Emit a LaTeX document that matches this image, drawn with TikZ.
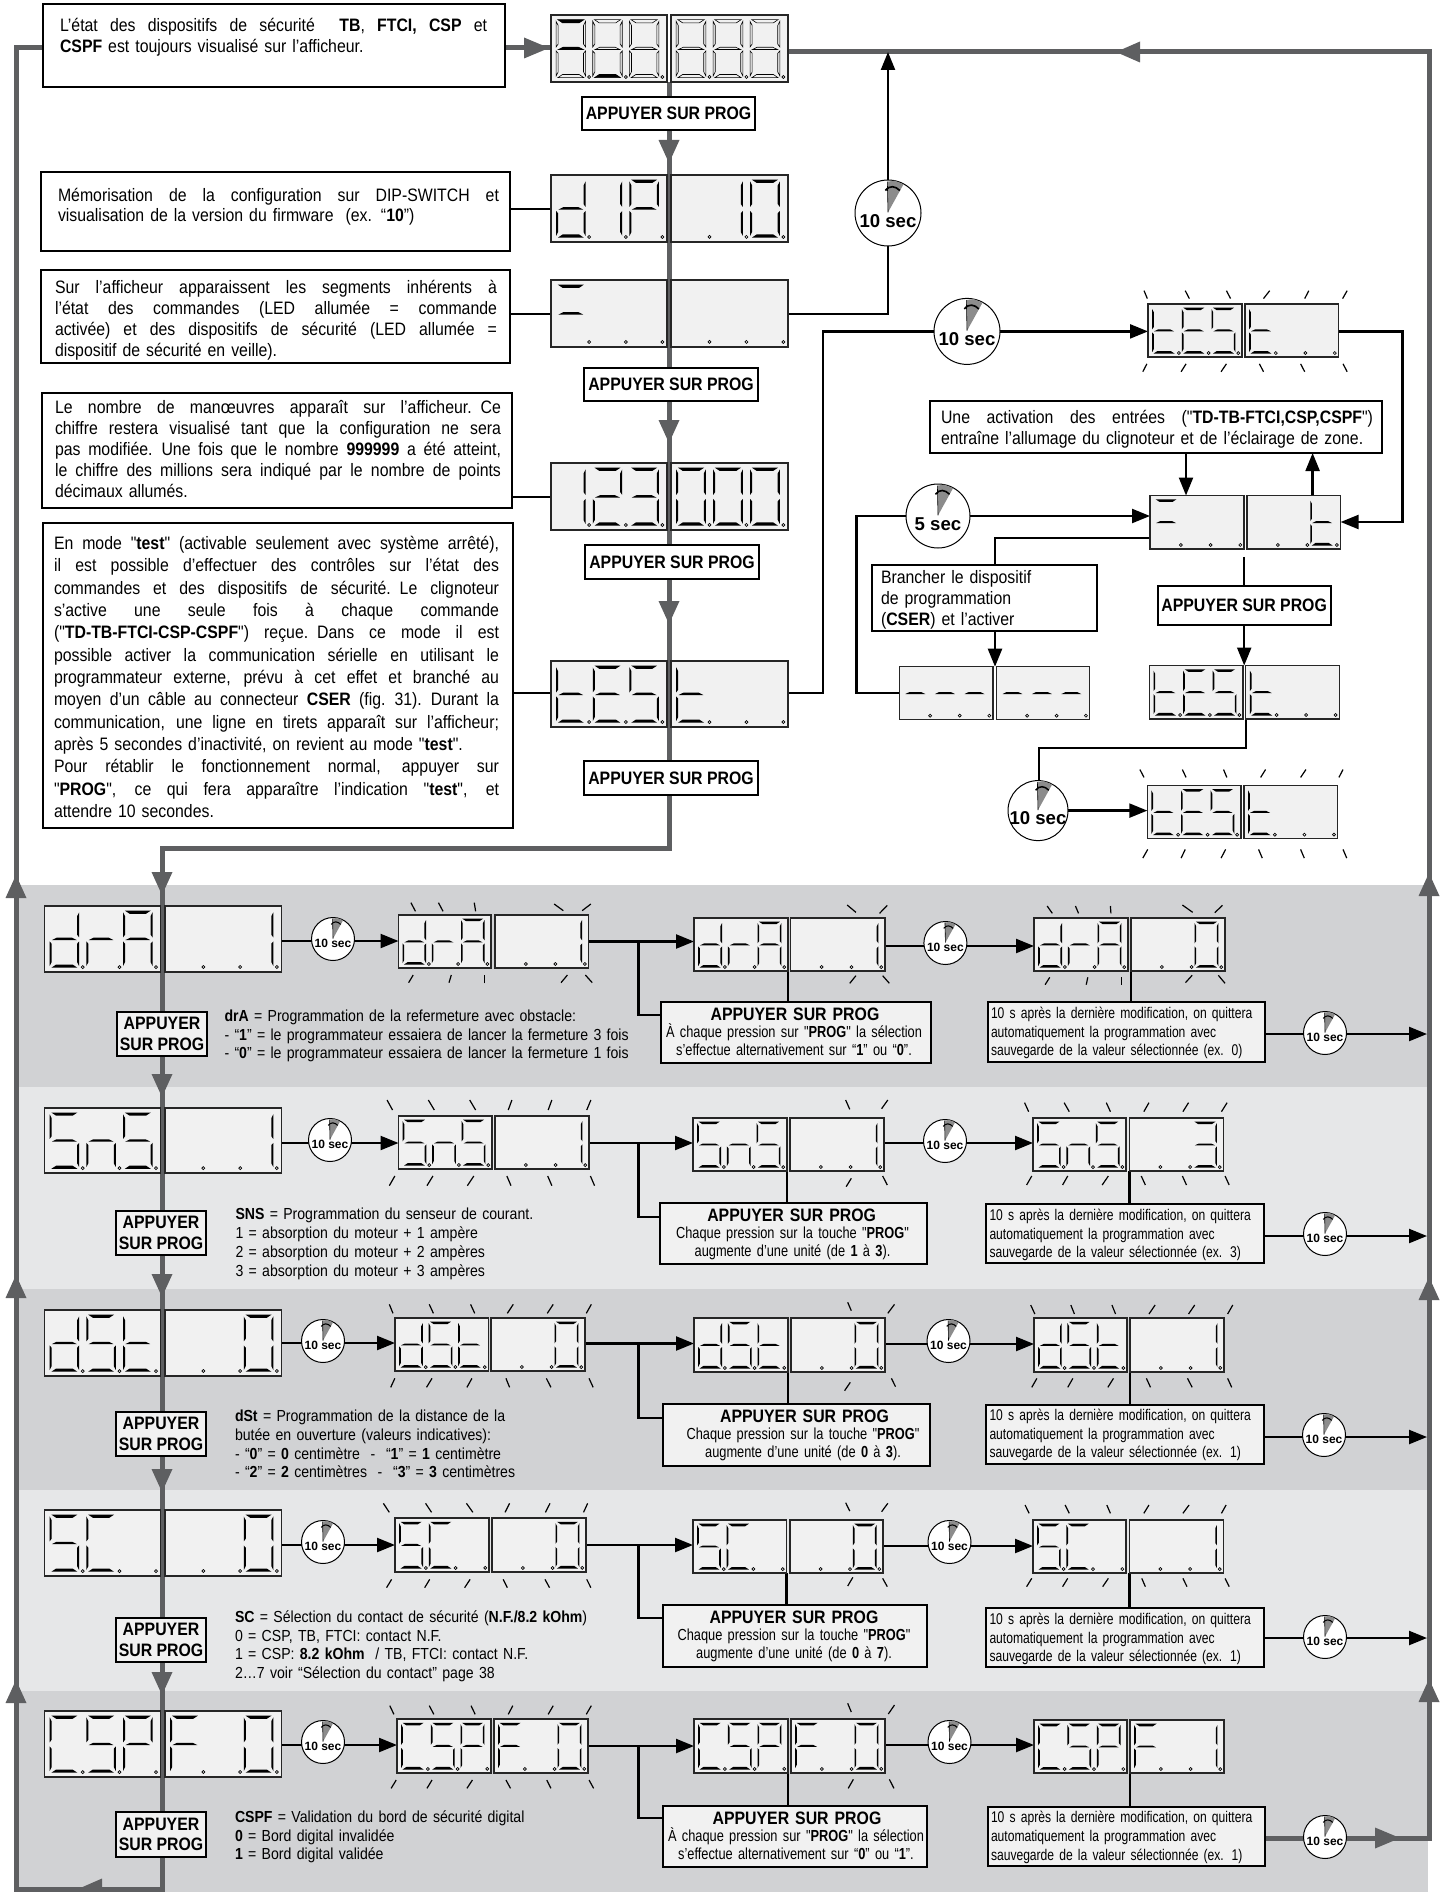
\documentclass[tikz,border=0pt]{standalone}
\usepackage{fontspec}
\setmainfont[FakeStretch=0.88,Ligatures=TeXOff]{Liberation Sans}
\newfontfamily\timerfont[Ligatures=TeXOff]{Liberation Sans}
\newfontfamily\cf[FakeStretch=0.8,Ligatures=TeXOff]{Liberation Sans}
\newfontfamily\rf[FakeStretch=0.78,Ligatures=TeXOff]{Liberation Sans}
\usetikzlibrary{arrows.meta,calc}
\pgfdeclarelayer{bands}\pgfdeclarelayer{links}\pgfsetlayers{bands,links,main}
\definecolor{gcol}{HTML}{5E5F61}
\definecolor{banddark}{HTML}{D1D2D4}
\definecolor{bandlight}{HTML}{E6E7E8}
\definecolor{pfill}{HTML}{F1F1F1}
\tikzset{
 pbox/.style={draw=black!85,fill=pfill,line width=1.2pt,inner sep=0,outer sep=0},
 tbox/.style={draw=black,fill=white,line width=2pt,inner sep=0,outer sep=0},
 gbox/.style={draw=black,fill=pfill,line width=2pt,inner sep=0,outer sep=0},
 txt/.style={inner sep=0,outer sep=0,anchor=north west,align=left},
 gline/.style={draw=gcol,line width=5pt,line join=miter},
 blk/.style={draw=black,line width=2.3pt},
 blkar/.style={blk,-{Triangle[length=18pt,width=14pt]}},
 tk/.style={draw=black,line width=1.2pt},
 dotst/.style={draw=black,fill=white,line width=.7pt},
 segcur/.style={fill=black},
 zs/.style n args={4}{shift={(#1,#2)},xscale=1/#3,yscale=1/#4},
}
% segments in a unit digit cell
\def\segma{\path[segcur] (.06,0)--(.94,0)--(.78,.055)--(.22,.055)--cycle;}
\def\segmg{\path[segcur] (.08,.515)--(.24,.475)--(.76,.475)--(.92,.515)--cycle;}
\def\segmd{\path[segcur] (.22,.945)--(.78,.945)--(.94,1)--(.06,1)--cycle;}
\def\segmf{\path[segcur] (0,.03)--(.07,.10)--(.07,.42)--(0,.47)--cycle;}
\def\segme{\path[segcur] (0,.54)--(.07,.58)--(.07,.90)--(0,.97)--cycle;}
\def\segmb{\path[segcur] (1,.03)--(.93,.10)--(.93,.42)--(1,.47)--cycle;}
\def\segmc{\path[segcur] (1,.54)--(.93,.58)--(.93,.90)--(1,.97)--cycle;}
\def\DGx{}
\def\DGd{b,c,d,e,g}\def\DGr{e,g}\def\DGA{a,b,c,e,f,g}\def\DGone{b,c}
\def\DGS{a,c,d,f,g}\def\DGn{c,e,g}\def\DGt{d,e,f,g}\def\DGC{a,d,e,f}
\def\DGP{a,b,e,f,g}\def\DGF{a,e,f,g}\def\DGzero{a,b,c,d,e,f}
\def\DGtwo{a,b,d,e,g}\def\DGthree{a,b,c,d,g}\def\DGE{a,d,e,f,g}
\def\DGag{a,g}\def\DGdd{d}\def\DGaa{a}\def\DGg{g}
\newif\ifshowoff
\newcommand{\digitat}[2]{%
 \begin{scope}[shift={(.044+#1*.316,.07)},xscale=.254,yscale=.865]
  \ifshowoff
   \begin{scope}[segcur/.style={draw=black,line width=.6pt}]
    \segma\segmb\segmc\segmd\segme\segmf\segmg
   \end{scope}
  \fi
  \expandafter\let\expandafter\curlist\csname DG#2\endcsname
  \foreach \s in \curlist {\csname segm\s\endcsname}
 \end{scope}}
\newcommand{\panel}[8]{%
 \pgfmathsetmacro\pw{#4-#2}\pgfmathsetmacro\ph{#5-#3}%
 \node[pbox,minimum width=\pw pt,minimum height=\ph pt,anchor=north west] (#1) at (#2,#3) {};
 \begin{scope}[shift={(#2,#3)},xscale=\pw,yscale=\ph]
  \digitat{0}{#6}\digitat{1}{#7}\digitat{2}{#8}
  \foreach \dx in {.329,.645,.960}
   {\draw[dotst] (\dx,.925) circle[x radius=1.5/\pw,y radius=1.5/\ph];}
 \end{scope}}
\newcommand{\bx}[6]{%
 \pgfmathsetmacro\pw{#5-#3}\pgfmathsetmacro\ph{#6-#4}%
 \node[#2,minimum width=\pw pt,minimum height=\ph pt,anchor=north west] (#1) at (#3,#4) {};}
\newcommand{\abx}[7]{%
 \pgfmathsetmacro\pw{#5-#3}\pgfmathsetmacro\ph{#6-#4}%
 \node[#2,minimum width=\pw pt,minimum height=\ph pt,anchor=north west,align=center,
   font={\fontsize{18}{20.5}\selectfont\bfseries}] (#1) at (#3,#4) {#7};}
\newcommand{\tbl}[7]{%
 \pgfmathsetmacro\tyy{#4+0.36*#5-0.8*#6}\pgfmathsetmacro\tss{0.8*#6}%
 \node[txt,#2,font={\fontsize{#5}{#6}\selectfont}] (#1) at (#3,\tyy) {\rule{0pt}{\tss pt}#7};}
\newcommand{\jl}[1]{\leavevmode\hbox to \hsize{\spaceskip=.245em plus 1fil\relax #1}}
\newcommand{\timer}[5]{% name cx cy r text(big=1/small=0)
 \node[circle,draw=black,fill=white,line width=1pt,minimum size=2*#4 pt,inner sep=0,outer sep=0] (#1) at (#2,#3) {};
 \begin{scope}[shift={(#2,#3)},scale=#4]
  \fill[black!45] (0,-.02)--(-.02,-.95)--(.2,-.98)--(.47,-.87)--cycle;
  \draw[black,line width=.05*#4 pt] (-.08,-.68) .. controls (.05,-.85) and (.22,-.82) .. (.36,-.68);
  \draw[black,line width=.6pt] (0,-.02)--(-.02,-.95);
 \end{scope}}
\newcommand{\bigsec}[4]{\node[inner sep=0,font={\timerfont\fontsize{18.6}{20}\selectfont\bfseries}] (#1) at (#2,#3) {#4};}
\newcommand{\smallsec}[3]{\node[inner sep=0,font={\timerfont\fontsize{12}{14}\selectfont\bfseries}] (#1) at (#2,#3) {10 sec};}
\newcommand{\stimer}[3]{\timer{#1}{#2}{#3}{21.5}{}\pgfmathsetmacro\tyy{#3+4.5}\smallsec{#1x}{#2}{\tyy}}
% gray heads
\newcommand{\gdown}[2]{\fill[gcol] (#1-10.5,#2-23)--(#1+10.5,#2-23)--(#1,#2)--cycle;}
\newcommand{\gup}[2]{\fill[gcol] (#1-10.5,#2+23)--(#1+10.5,#2+23)--(#1,#2)--cycle;}
\newcommand{\gleft}[2]{\fill[gcol] (#1+24,#2-10.5)--(#1+24,#2+10.5)--(#1,#2)--cycle;}
\newcommand{\gright}[2]{\fill[gcol] (#1-25,#2-10.5)--(#1-25,#2+10.5)--(#1,#2)--cycle;}
\newcommand{\tkB}[3]{\foreach \a/\b in {#1}{\draw[tk] (\a,#2)--(\b,#3);}}
\newcommand{\tkF}[3]{\foreach \a/\b in {#1}{\draw[tk] (\a,#3)--(\b,#2);}}
% row connectors: n y1 y2 y3 ybranch
\newcommand{\rowlinks}[5]{%
 \coordinate (y#1a) at (0,#2);\coordinate (y#1b) at (0,#3);\coordinate (y#1c) at (0,#4);
 \coordinate (k#1) at (638.5,#3);\coordinate (z#1) at (638.5,#5);
 \draw[blk] (p#1aR.east |- y#1a) -- (t#1a.center |- y#1a);
 \draw[blkar] (t#1a.center |- y#1a) -- (p#1bL.west |- y#1a);
 \draw[blkar] (p#1bR.east |- y#1b) -- (p#1cL.west |- y#1b);
 \draw[blk] (k#1) -- (z#1) -- (m#1.west |- z#1);
 \draw[blk] (p#1cR.east |- y#1c) -- (t#1c.center |- y#1c);
 \draw[blkar] (t#1c.center |- y#1c) -- (p#1dL.west |- y#1c);
 \draw[blk] (p#1cL.south east) -- (p#1cL.south east |- m#1.north);
 \draw[blk] (p#1dR.south west) -- (p#1dR.south west |- r#1.north);}
\begin{document}
\begin{tikzpicture}[x=1pt,y=-1pt]
\useasboundingbox (0,0) rectangle (1446,1892);
\begin{pgfonlayer}{bands}
\fill[white] (0,0) rectangle (1446,1892);
\end{pgfonlayer}
%-------- top boxes
\bx{b1}{tbox}{43}{4}{505}{87}
\tbl{b1t}{text width=427pt}{60}{25}{18}{21}{\jl{L’état des dispositifs de sécurité \ \textbf{TB}, \textbf{FTCI, CSP} et}\\\textbf{CSPF} est toujours visualisé sur l’afficheur.}
\bx{b2}{tbox}{41}{172}{510}{251}
\tbl{b2t}{text width=441pt}{58}{195}{18}{20.5}{\jl{Mémorisation de la configuration sur DIP-SWITCH et}\\visualisation de la version du firmware \ (ex. “\textbf{10}”)}
\bx{b3}{tbox}{41}{270}{510}{363}
\tbl{b3t}{text width=442pt}{55}{287}{18}{21}{\jl{Sur l’afficheur apparaissent les segments inhérents à}\\\jl{l’état des commandes (LED allumée = commande}\\\jl{activée) et des dispositifs de sécurité (LED allumée =}\\dispositif de sécurité en veille).}
\bx{b4}{tbox}{42}{393}{512}{508}
\tbl{b4t}{text width=446pt}{55}{407}{18}{21}{\jl{Le nombre de manœuvres apparaît sur l’afficheur. Ce}\\\jl{chiffre restera visualisé tant que la configuration ne sera}\\\jl{pas modifiée. Une fois que le nombre \textbf{999999} a été atteint,}\\\jl{le chiffre des millions sera indiqué par le nombre de points}\\décimaux allumés.}
\bx{b5}{tbox}{43}{523}{513}{828}
\tbl{b5t}{text width=445pt}{54}{543}{18}{22.35}{\jl{En mode "\textbf{test}" (activable seulement avec système arrêté),}\\\jl{il est possible d’effectuer des contrôles sur l’état des}\\\jl{commandes et des dispositifs de sécurité. Le clignoteur}\\\jl{s’active une seule fois à chaque commande}\\\jl{("\textbf{TD-TB-FTCI-CSP-CSPF}") reçue. Dans ce mode il est}\\\jl{possible activer la communication sérielle en utilisant le}\\\jl{programmateur externe, prévu à cet effet et branché au}\\\jl{moyen d’un câble au connecteur \textbf{CSER} (fig. 31). Durant la}\\\jl{communication, une ligne en tirets apparaît sur l’afficheur;}\\après 5 secondes d’inactivité, on revient au mode "\textbf{test}".\\\jl{Pour rétablir le fonctionnement normal, appuyer sur}\\\jl{"\textbf{PROG}", ce qui fera apparaître l’indication "\textbf{test}", et}\\attendre 10 secondes.}
%-------- central displays
\begin{scope}\showofftrue
\panel{d0L}{551}{15}{667}{82}{ag}{dd}{x}
\panel{d0R}{671}{15}{788}{82}{x}{x}{x}
\end{scope}
\panel{d1L}{551}{175}{667}{242}{d}{one}{P}
\panel{d1R}{671}{175}{788}{242}{x}{one}{zero}
\panel{d2L}{551}{280}{667}{347}{ag}{x}{x}
\panel{d2R}{671}{280}{788}{347}{x}{x}{x}
\panel{d3L}{551}{463}{667}{530}{one}{two}{three}
\panel{d3R}{671}{463}{788}{530}{zero}{zero}{zero}
\panel{d4L}{551}{661}{667}{727}{t}{E}{S}
\panel{d4R}{671}{661}{788}{727}{t}{x}{x}
\abx{a1}{tbox}{582}{97}{755}{130}{APPUYER SUR PROG}
\abx{a2}{tbox}{584}{368}{758}{401}{APPUYER SUR PROG}
\abx{a3}{tbox}{585}{545}{759}{579}{APPUYER SUR PROG}
\abx{a4}{tbox}{584}{761}{758}{795}{APPUYER SUR PROG}
%-------- right group
\panel{taL}{1148}{304}{1242}{357}{t}{E}{S}
\panel{taR}{1245}{304}{1338.5}{357}{t}{x}{x}
\panel{tmL}{1150}{495.5}{1244}{549}{ag}{x}{x}
\panel{tmR}{1247}{495.5}{1340.6}{549}{x}{x}{t}
\panel{dsL}{899.3}{666.7}{993}{719.7}{g}{g}{g}
\panel{dsR}{996.5}{666.7}{1089.7}{719.7}{g}{g}{g}
\panel{t2L}{1149.4}{665.5}{1243}{719}{t}{E}{S}
\panel{t2R}{1245.8}{665.5}{1339.4}{719}{t}{x}{x}
\panel{t3L}{1147.3}{785.3}{1240.9}{838.7}{t}{E}{S}
\panel{t3R}{1244}{785.3}{1337.7}{838.7}{t}{x}{x}
\bx{act}{tbox}{930}{400.6}{1382}{453}
\tbl{actt}{text width=432pt}{941}{417}{18}{21}{\jl{Une activation des entrées ("\textbf{TD-TB-FTCI,CSP,CSPF}")}\\entraîne l’allumage du clignoteur et de l’éclairage de zone.}
\bx{br}{tbox}{872}{564.7}{1096.7}{631}
\tbl{brt}{text width=210pt}{881}{577}{18}{21}{Brancher le dispositif\\de programmation\\(\textbf{CSER}) et l’activer}
\abx{ap}{tbox}{1157.6}{585.6}{1330.7}{624.8}{APPUYER SUR PROG}
\timer{tt}{888}{213}{33}{}\bigsec{ttx}{888}{221}{10 sec}
\timer{t1}{967}{331.4}{33}{}\bigsec{t1x}{967}{339.5}{10 sec}
\timer{t5}{938}{516}{32}{}\bigsec{t5x}{938}{524}{5 sec}
\timer{t6}{1038}{810.6}{30}{}\bigsec{t6x}{1038}{818.5}{10 sec}
%-------- rows: first displays
\panel{p1aL}{44.5}{906}{160.7}{972}{d}{r}{A}
\panel{p1aR}{165}{906}{281.5}{972}{x}{x}{one}
\panel{p2aL}{44.5}{1108}{160.7}{1173}{S}{n}{S}
\panel{p2aR}{165}{1108}{281.5}{1173}{x}{x}{one}
\panel{p3aL}{44.5}{1310}{160.7}{1376}{d}{S}{t}
\panel{p3aR}{165}{1310}{281.5}{1376}{x}{x}{zero}
\panel{p4aL}{44.5}{1510}{160.7}{1576}{S}{C}{x}
\panel{p4aR}{165}{1510}{281.5}{1576}{x}{x}{zero}
\panel{p5aL}{44.5}{1711}{160.7}{1777}{C}{S}{P}
\panel{p5aR}{165}{1711}{281.5}{1777}{F}{x}{zero}
% second displays
\panel{p1bL}{398.5}{915}{491}{968}{d}{r}{A}
\panel{p1bR}{495}{915}{588.6}{968}{x}{x}{one}
\panel{p2bL}{398.5}{1116}{492}{1169}{S}{n}{S}
\panel{p2bR}{495}{1116}{589}{1169}{x}{x}{one}
\panel{p3bL}{395}{1318}{488.5}{1371}{d}{S}{t}
\panel{p3bR}{491}{1318}{585}{1371}{x}{x}{zero}
\panel{p4bL}{395}{1518}{489}{1572}{S}{C}{x}
\panel{p4bR}{492}{1518}{586}{1572}{x}{x}{zero}
\panel{p5bL}{397}{1719}{491}{1773}{C}{S}{P}
\panel{p5bR}{494}{1719}{588}{1773}{F}{x}{zero}
% third displays
\panel{p1cL}{694}{918}{788}{971}{d}{r}{A}
\panel{p1cR}{790.6}{918}{885}{971}{x}{x}{one}
\panel{p2cL}{693}{1118}{787}{1171}{S}{n}{S}
\panel{p2cR}{790}{1118}{884}{1171}{x}{x}{one}
\panel{p3cL}{694}{1318}{788}{1372}{d}{S}{t}
\panel{p3cR}{791}{1318}{885}{1372}{x}{x}{zero}
\panel{p4cL}{693}{1520}{786.5}{1573}{S}{C}{x}
\panel{p4cR}{790}{1520}{883}{1573}{x}{x}{zero}
\panel{p5cL}{694}{1719}{788}{1773}{C}{S}{P}
\panel{p5cR}{791}{1719}{885}{1773}{F}{x}{zero}
% fourth displays
\panel{p1dL}{1034}{918}{1128}{971}{d}{r}{A}
\panel{p1dR}{1131}{918}{1225}{971}{x}{x}{zero}
\panel{p2dL}{1033}{1118}{1126}{1171}{S}{n}{S}
\panel{p2dR}{1129.5}{1118}{1223.5}{1171}{x}{x}{three}
\panel{p3dL}{1034}{1318}{1127}{1372}{d}{S}{t}
\panel{p3dR}{1130}{1318}{1224}{1372}{x}{x}{one}
\panel{p4dL}{1033}{1520}{1126}{1573}{S}{C}{x}
\panel{p4dR}{1129.5}{1520}{1223.5}{1573}{x}{x}{one}
\panel{p5dL}{1034}{1720}{1127}{1773}{C}{S}{P}
\panel{p5dR}{1130}{1720}{1224}{1773}{F}{x}{one}
% left boxes
\abx{a1l}{gbox}{117}{1012}{207}{1056}{APPUYER\\SUR PROG}
\abx{a2l}{gbox}{116}{1211}{206}{1255}{APPUYER\\SUR PROG}
\abx{a3l}{gbox}{116}{1412}{206}{1456}{APPUYER\\SUR PROG}
\abx{a4l}{gbox}{116}{1618}{206}{1662}{APPUYER\\SUR PROG}
\abx{a5l}{gbox}{116}{1812}{206}{1857}{APPUYER\\SUR PROG}
% descriptions
\tbl{de1}{text width=430pt}{224.5}{1016}{16}{18.5}{\textbf{drA} = Programmation de la refermeture avec obstacle:\\- “\textbf{1}” = le programmateur essaiera de lancer la fermeture 3 fois\\- “\textbf{0}” = le programmateur essaiera de lancer la fermeture 1 fois}
\tbl{de2}{text width=400pt}{235.5}{1214}{16}{19}{\textbf{SNS} = Programmation du senseur de courant.\\1 = absorption du moteur + 1 ampère\\2 = absorption du moteur + 2 ampères\\3 = absorption du moteur + 3 ampères}
\tbl{de3}{text width=400pt}{235}{1416}{16}{18.7}{\textbf{dSt} = Programmation de la distance de la\\butée en ouverture (valeurs indicatives):\\- “\textbf{0}” = \textbf{0} centimètre \ - \ “\textbf{1}” = \textbf{1} centimètre\\- “\textbf{2}” = \textbf{2} centimètres \ - \ “\textbf{3}” = \textbf{3} centimètres}
\tbl{de4}{text width=400pt}{235}{1617}{16}{18.5}{\textbf{SC} = Sélection du contact de sécurité (\textbf{N.F./8.2 kOhm})\\0 = CSP, TB, FTCI: contact N.F.\\1 = CSP: \textbf{8.2 kOhm \ }/ TB, FTCI: contact N.F.\\2…7 voir “Sélection du contact” page 38}
\tbl{de5}{text width=400pt}{235}{1817}{16}{18.5}{\textbf{CSPF} = Validation du bord de sécurité digital\\\textbf{0} = Bord digital invalidée\\\textbf{1} = Bord digital validée}
% middle boxes
\bx{m1}{gbox}{660.6}{1002}{930.5}{1063}
\bx{m2}{gbox}{659.5}{1203}{927}{1264}
\bx{m3}{gbox}{662.6}{1404}{929.5}{1466}
\bx{m4}{gbox}{662.6}{1605}{927}{1667}
\bx{m5}{gbox}{662.6}{1806}{927}{1867}
\newcommand{\midtxt}[6]{%
 \tbl{#1a}{anchor=north,text width=260pt,align=center}{#2}{#3}{18}{18}{\textbf{APPUYER SUR PROG}}
 \pgfmathsetmacro\tzz{#3+18}%
 \tbl{#1b}{anchor=north,text width=260pt,align=center}{#4}{\tzz}{16}{18}{\cf\fontsize{16}{18}\selectfont #5\\#6}}
\midtxt{mt1}{795}{1014}{794}{À chaque pression sur "\textbf{PROG}" la sélection}{s’effectue alternativement sur “\textbf{1}” ou “\textbf{0}”.}
\midtxt{mt2}{791.6}{1215}{792.5}{Chaque pression sur la touche "\textbf{PROG}"}{augmente d’une unité (de \textbf{1} à \textbf{3}).}
\midtxt{mt3}{804.5}{1416}{803}{Chaque pression sur la touche "\textbf{PROG}"}{augmente d’une unité (de \textbf{0} à \textbf{3}).}
\midtxt{mt4}{794}{1617}{794}{Chaque pression sur la touche "\textbf{PROG}"}{augmente d’une unité (de \textbf{0} à \textbf{7}).}
\midtxt{mt5}{797}{1818}{796}{À chaque pression sur "\textbf{PROG}" la sélection}{s’effectue alternativement sur “\textbf{0}” ou “\textbf{1}”.}
% right boxes
\bx{r1}{gbox}{987.6}{1002}{1265}{1062}
\bx{r2}{gbox}{986}{1204}{1263.7}{1263}
\bx{r3}{gbox}{986}{1405}{1263.7}{1464}
\bx{r4}{gbox}{986}{1608}{1263.7}{1667}
\bx{r5}{gbox}{987.6}{1807}{1265}{1866}
\newcommand{\rtxt}[4]{\tbl{#1}{text width=274pt}{#2}{#3}{15.5}{18.7}{\rf\fontsize{15.5}{18.7}\selectfont 10 s après la dernière modification, on quittera\\automatiquement la programmation avec\\sauvegarde de la valeur sélectionnée (ex. #4)}}
\rtxt{rt1}{991}{1013}{0}
\rtxt{rt2}{989.5}{1215}{3}
\rtxt{rt3}{989.5}{1415}{1}
\rtxt{rt4}{989.5}{1619}{1}
\rtxt{rt5}{991}{1817}{1}
% timers
\stimer{t1a}{333}{939}\stimer{t1c}{945.4}{943}\stimer{t1r}{1325}{1033}
\stimer{t2a}{330}{1140}\stimer{t2c}{945}{1141}\stimer{t2r}{1325}{1234}
\stimer{t3a}{323}{1341}\stimer{t3c}{948.5}{1341}\stimer{t3r}{1324}{1435}
\stimer{t4a}{323}{1542}\stimer{t4c}{949.5}{1542}\stimer{t4r}{1325}{1637}
\stimer{t5a}{323}{1742}\stimer{t5c}{949.5}{1742}\stimer{t5r}{1325}{1837}
%-------- blink ticks
\begin{scope}[zs={800}{280}{2.427}{2.529}]
 \tkB{835/843,935/945,1035/1045}{27}{47}\tkF{1125/1140,1225/1235,1317/1328}{27}{47}
 \tkF{832/842,925/937,1022/1035}{212}{232}\tkB{1115/1125,1215/1225,1318/1328}{212}{232}
 \tkB{825/835,928/937,1028/1036}{1238}{1258}\tkF{1118/1130,1215/1228,1308/1318}{1238}{1258}
 \tkF{832/844,925/935,1022/1033}{1440}{1462}\tkB{1113/1122,1215/1224,1318/1327}{1440}{1462}
\end{scope}
\begin{scope}[zs={0}{880}{2.178}{3}]
 \tkB{895/905,955/965,1033/1036}{68}{94}\tkB{1207/1227}{72}{92}\tkF{1268/1287}{72}{92}
 \tkF{890/900,978/983,1222/1236}{285}{308}\tkF{1056/1056}{285}{310}\tkB{1275/1290}{285}{308}
 \tkB{843/855,933/946,1023/1036}{660}{690}\tkF{1107/1115,1194/1202,1278/1287}{660}{690}
 \tkF{848/860,930/943,1018/1032}{888}{917}\tkB{1104/1113,1193/1202,1286/1295}{888}{917}
\end{scope}
\begin{scope}[zs={640}{880}{1.945}{3}]
 \tkB{403/420}{75}{97}\tkF{466/481}{76}{100}\tkF{408/420}{287}{310}\tkB{472/485}{287}{310}
 \tkB{792/802,847/853,915/916}{78}{100}\tkB{1055/1075}{75}{97}\tkF{1118/1133}{76}{98}
 \tkF{788/797,868/871,936/936}{292}{314}\tkF{1061/1074}{286}{308}\tkB{1125/1138}{286}{310}
 \tkB{400/408}{660}{688}\tkF{470/482}{660}{686}\tkF{401/411}{895}{920}\tkB{472/481}{888}{915}
 \tkB{748/756,825/835,907/915}{668}{695}\tkF{980/990,1056/1067,1131/1142}{668}{695}
 \tkF{752/762,822/832,899/911}{888}{915}\tkB{975/983,1055/1063,1138/1146}{888}{915}
\end{scope}
\begin{scope}[zs={0}{1290}{2.178}{3}]
 \tkB{848/856,935/944,1025/1034}{43}{70}\tkF{1105/1118,1192/1205,1277/1288}{43}{70}
 \tkF{851/860,929/941,1017/1028}{265}{292}\tkB{1102/1110,1190/1200,1283/1292}{265}{292}
 \tkB{835/848,927/940,1016/1030}{640}{667}\tkF{1100/1110,1188/1198,1271/1280}{640}{667}
 \tkF{842/853,925/936,1012/1024}{868}{893}\tkB{1096/1105,1187/1197,1278/1287}{868}{893}
\end{scope}
\begin{scope}[zs={640}{1290}{1.945}{3}]
 \tkB{404/411}{37}{62}\tkF{482/495}{43}{70}\tkF{398/409}{277}{302}\tkB{489/497}{265}{290}
 \tkB{760/768,838/845,918/925}{45}{72}\tkF{990/1002,1067/1079,1143/1153}{45}{72}
 \tkF{762/772,832/842,910/921}{265}{292}\tkB{985/993,1065/1074,1143/1151}{265}{292}
 \tkB{400/408}{638}{663}\tkF{470/482}{640}{665}\tkF{404/414}{862}{888}\tkB{472/481}{865}{890}
 \tkB{749/757,827/835,908/915}{645}{670}\tkF{980/990,1056/1068,1131/1140}{645}{670}
 \tkF{752/762,822/832,900/911}{865}{890}\tkB{976/983,1056/1064,1138/1146}{865}{890}
\end{scope}
\begin{scope}[zs={0}{1680}{2.178}{3}]
 \tkB{849/858,935/945,1026/1035}{77}{103}\tkF{1107/1117,1194/1205,1277/1288}{77}{103}
 \tkF{852/863,930/941,1017/1029}{300}{325}\tkB{1102/1112,1191/1200,1283/1293}{300}{325}
\end{scope}
\begin{scope}[zs={640}{1680}{1.945}{3}]
 \tkB{404/411}{70}{96}\tkF{483/495}{75}{102}\tkF{405/415}{298}{325}\tkB{485/494}{298}{325}
\end{scope}
%-------- bands
\begin{pgfonlayer}{bands}
 \fill[banddark] (18,885) rectangle (1428,1087);
 \fill[bandlight] (18,1087) rectangle (1428,1289);
 \fill[banddark] (18,1289) rectangle (1428,1490);
 \fill[bandlight] (18,1490) rectangle (1428,1691);
 \fill[banddark] (18,1691) rectangle (1428,1892);
\end{pgfonlayer}
%-------- connectors
\begin{pgfonlayer}{links}
 \coordinate (ltop) at (16,48); \coordinate (lbot) at (16,1889);
 \coordinate (cbot) at (162,1889); \coordinate (elb) at (162,848);
 \coordinate (cx0) at (669,82); \coordinate (rtop) at (1429,52); \coordinate (rbot) at (1429,1838);
 \coordinate (rx) at (1427,0);
 \draw[gline] (b1.west |- ltop) -- (ltop) -- (lbot) -- (cbot) -- (elb) -- (cx0 |- elb) -- (cx0);
 \draw[gline] (b1.east |- ltop) -- (d0L.west |- ltop);
 \draw[gline] (d0R.east |- rtop) -- (rtop) -- (rbot) -- (r5.east |- rbot);
 \gright{549}{48}
 \gleft{1116}{52}
 \gdown{669}{163}\gdown{669}{443}\gdown{669}{624}
 \gdown{162}{895}\gdown{162}{1097}\gdown{162}{1297}\gdown{162}{1492}\gdown{162}{1695}
 \gup{16}{875}\gup{16}{1275}\gup{16}{1680}
 \gup{1429}{873}\gup{1429}{1277}\gup{1429}{1679}
 \gright{1400}{1838}
 \gleft{78}{1889}
 % black: main column
 \coordinate (c1) at (0,209);\coordinate (c2) at (0,314);\coordinate (c3) at (0,497);\coordinate (c4) at (0,693);
 \draw[blk] (b2.east |- c1) -- (d1L.west |- c1);
 \draw[blk] (b3.east |- c2) -- (d2L.west |- c2);
 \draw[blk] (b4.east |- c3) -- (d3L.west |- c3);
 \draw[blk] (b5.east |- c4) -- (d4L.west |- c4);
 \draw[blk] (d2R.east |- c2) -| (tt.center);
 \draw[blkar] (tt.center) -- (tt.center |- rtop);
 \coordinate (k1) at (822.7,331.4);
 \draw[blk] (d4R.east |- c4) -| (k1) -- (t1.center);
 \draw[blkar] (t1.center) -- (taL.west |- t1.center);
 \coordinate (k2) at (1402.4,522);
 \draw[blkar] (taR.east |- t1.center) -| (k2) -- (tmR.east |- k2);
 \coordinate (k7) at (1186,0);\coordinate (k8) at (1312.6,0);
 \draw[blkar] (act.south -| k7) -- (tmL.north -| k7);
 \draw[blkar] (tmR.north -| k8) -- (act.south -| k8);
 \coordinate (k3) at (856.4,693);
 \draw[blk] (dsL.west |- k3) -- (k3) -- (k3 |- t5.center) -- (t5.center);
 \draw[blkar] (t5.center) -- (tmL.west |- t5.center);
 \coordinate (k4) at (995,537.8);
 \draw[blk] (tmL.west |- k4) -- (k4) -- (k4 |- br.north);
 \draw[blkar] (k4 |- br.south) -- (k4 |- dsL.north);
 \coordinate (k5) at (1244.2,556.8);
 \draw[blk] (k5) -- (ap.north -| k5);
 \draw[blkar] (ap.south -| k5) -- (t2L.north -| k5);
 \coordinate (k6) at (1039,747.8);
 \draw[draw=black,line width=1.8pt] (t2R.south west) -- (t2R.south west |- k6) -- (k6) -- (t6.north -| k6);
 \draw[blkar] (t6.center) -- (t3L.west |- t6.center);
 % rows
 \rowlinks{1}{941}{941.5}{946}{1015}
 \rowlinks{2}{1143}{1143}{1143}{1217}
 \rowlinks{3}{1343}{1343.5}{1344}{1418}
 \rowlinks{4}{1545}{1545}{1546}{1618}
 \rowlinks{5}{1745}{1746}{1745}{1818}
 \coordinate (w1) at (0,1034);\coordinate (w2) at (0,1236);\coordinate (w3) at (0,1437);\coordinate (w4) at (0,1638);
 \foreach \n/\w in {1/w1,2/w2,3/w3,4/w4}{
  \draw[blk] (r\n.east |- \w) -- (t\n r.center |- \w);
  \draw[blkar] (t\n r.center |- \w) -- (rx |- \w);
 }
\end{pgfonlayer}
\end{tikzpicture}
\end{document}
